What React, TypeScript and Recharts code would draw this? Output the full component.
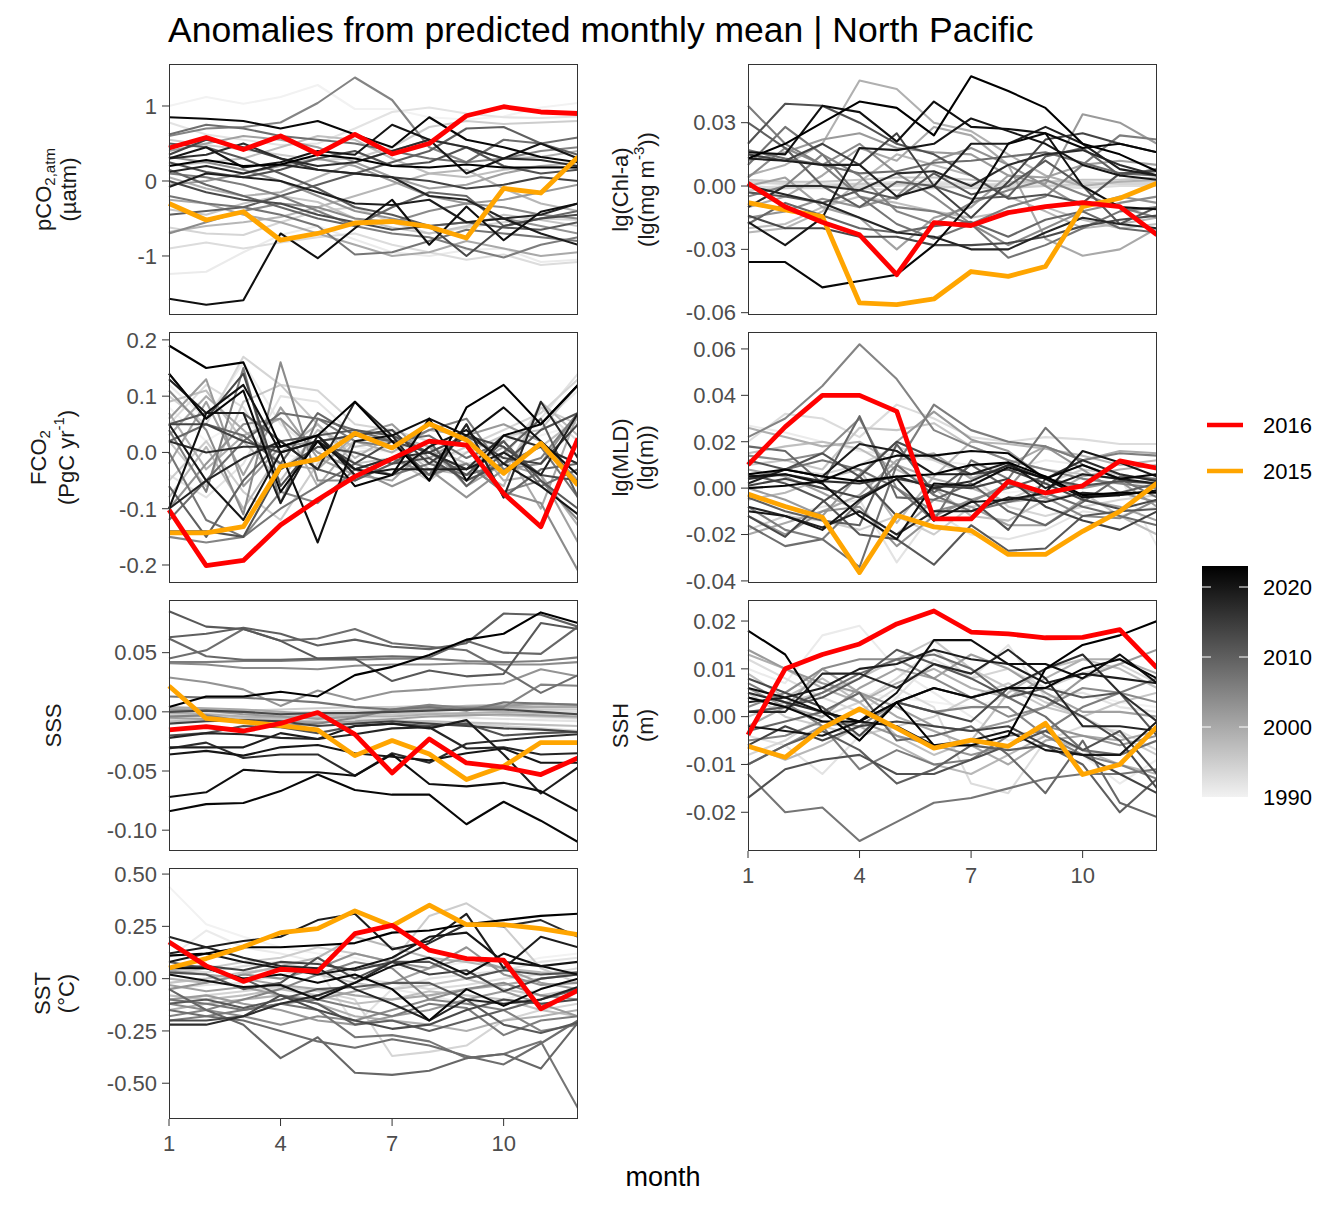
import React from 'react';
import { LineChart, Line, XAxis, YAxis } from 'recharts';

const MONTHS = [1, 2, 3, 4, 5, 6, 7, 8, 9, 10, 11, 12];
const MONTH_TICKS = [1, 4, 7, 10];
const YEARS = [
  1990, 1991, 1992, 1993, 1994, 1995, 1996, 1997, 1998, 1999, 2000, 2001, 2002,
  2003, 2004, 2005, 2006, 2007, 2008, 2009, 2010, 2011, 2012, 2013, 2014,
  2017, 2018, 2019, 2020, 2021, 2022, 2023,
];
const COLORBAR_TICKS = [1990, 2000, 2010, 2020];

// pCO2,atm (µatm)
const pco2Grey = [
  [1.00, 1.12, 1.03, 1.12, 1.28, 0.96, 0.96, 0.85, 0.82, 0.86, 0.98, 1.04],
  [-1.24, -1.21, -0.95, -0.72, -0.60, -0.78, -0.95, -1.00, -0.92, -0.90, -1.08, -1.05],
  [0.78, 0.62, 0.55, 0.48, 0.50, 0.70, 0.92, 0.98, 0.90, 0.85, 0.84, 0.86],
  [-0.90, -0.82, -0.90, -0.82, -0.75, -0.70, -0.85, -0.95, -1.05, -0.98, -1.12, -1.08],
  [-0.62, -0.70, -0.72, -0.55, -0.40, -0.35, -0.55, -0.70, -0.62, -0.55, -0.50, -0.52],
  [0.55, 0.48, 0.42, 0.35, 0.28, 0.30, 0.45, 0.72, 0.80, 0.76, 0.78, 0.80],
  [-0.38, -0.45, -0.30, -0.20, -0.28, -0.50, -0.62, -0.70, -0.60, -0.45, -0.52, -0.60],
  [0.20, 0.25, 0.30, 0.45, 0.60, 0.55, 0.30, 0.10, 0.05, 0.15, 0.20, 0.25],
  [-0.68, -0.60, -0.55, -0.48, -0.35, -0.20, -0.05, 0.10, 0.15, -0.10, -0.30, -0.40],
  [0.05, -0.10, -0.20, -0.15, 0.05, 0.25, 0.40, 0.55, 0.45, 0.30, 0.32, 0.40],
  [-0.25, -0.30, -0.45, -0.55, -0.70, -0.85, -1.00, -0.95, -0.80, -0.90, -1.00, -0.95],
  [0.40, 0.50, 0.60, 0.55, 0.45, 0.25, 0.05, -0.10, -0.05, 0.10, 0.20, 0.18],
  [-0.05, 0.00, 0.10, 0.20, 0.30, 0.20, 0.00, -0.20, -0.30, -0.25, -0.15, -0.05],
  [0.32, 0.25, 0.15, 0.00, -0.20, -0.40, -0.50, -0.60, -0.55, -0.50, -0.60, -0.70],
  [-0.70, -0.55, -0.40, -0.30, -0.35, -0.50, -0.55, -0.40, -0.30, -0.35, -0.45, -0.50],
  [0.60, 0.70, 0.72, 0.78, 1.04, 1.38, 1.08, 0.45, 0.25, 0.30, 0.40, 0.45],
  [0.10, 0.05, -0.05, -0.20, -0.40, -0.60, -0.70, -0.75, -0.90, -1.02, -0.85, -0.75],
  [-0.20, -0.30, -0.35, -0.45, -0.60, -0.98, -0.95, -0.80, -0.65, -0.70, -0.75, -0.80],
  [0.62, 0.75, 0.70, 0.60, 0.55, 0.50, 0.40, 0.30, 0.25, 0.55, 0.50, 0.58],
  [0.15, -0.05, -0.20, -0.35, -0.50, -0.60, -0.35, -0.15, -0.20, -0.60, -0.50, -0.40],
  [-0.45, -0.40, -0.35, -0.20, -0.05, 0.10, 0.25, 0.40, 0.70, 0.72, 0.50, 0.35],
  [0.50, 0.45, 0.30, 0.10, -0.10, -0.35, -0.45, -0.60, -0.55, -0.62, -0.65, -0.55],
  [0.25, 0.12, 0.05, 0.15, 0.30, 0.40, 0.20, 0.25, 0.45, 0.20, 0.10, 0.15],
  [0.00, -0.15, -0.25, -0.30, -0.45, -0.55, -0.65, -0.60, -1.00, -0.60, -0.50, -0.45],
  [0.35, 0.55, 0.45, 0.30, 0.15, 0.10, 0.05, 0.00, -0.10, -0.05, 0.05, 0.00],
  [0.30, 0.35, 0.50, 0.30, 0.20, 0.25, 0.40, 0.55, 0.45, 0.30, 0.28, 0.20],
  [0.12, 0.20, 0.10, 0.22, 0.15, 0.10, 0.05, -0.20, -0.25, -0.50, -0.45, -0.30],
  [-0.08, 0.10, 0.05, 0.00, -0.15, -0.30, -0.32, -0.25, -0.55, -0.50, -0.70, -0.85],
  [0.30, 0.45, 0.18, 0.25, 0.40, 0.35, 0.75, 0.55, 0.10, 0.30, 0.50, 0.30],
  [-1.57, -1.65, -1.59, -0.70, -1.03, -0.63, -0.25, -0.85, -0.34, -0.79, -0.41, -0.30],
  [0.85, 0.83, 0.80, 0.70, 0.80, 0.62, 0.45, 0.85, 0.55, 0.45, 0.32, 0.25],
  [0.20, 0.28, 0.20, 0.22, 0.35, 0.30, 0.20, 0.18, 0.22, 0.18, 0.18, 0.18],
];
const pco2Y2016 = [0.44, 0.58, 0.42, 0.60, 0.36, 0.62, 0.36, 0.50, 0.87, 0.99, 0.92, 0.90];
const pco2Y2015 = [-0.30, -0.52, -0.41, -0.79, -0.70, -0.56, -0.54, -0.61, -0.76, -0.10, -0.16, 0.32];
const pco2Ticks = [-1, 0, 1];

// lg(Chl-a)
const chlGrey = [
  [0.001, 0.001, 0.000, 0.000, 0.001, 0.001, 0.000, 0.000, 0.001, 0.001, 0.000, 0.000],
  [0.002, 0.002, 0.001, 0.001, 0.001, 0.000, 0.000, 0.001, 0.001, 0.001, 0.001, 0.001],
  [-0.001, 0.000, 0.001, 0.001, 0.002, 0.002, 0.001, 0.001, 0.000, 0.000, 0.001, 0.001],
  [0.000, -0.001, -0.001, 0.000, 0.000, 0.001, 0.001, 0.000, 0.000, -0.001, 0.000, 0.000],
  [0.002, 0.001, 0.000, -0.001, -0.002, -0.001, 0.000, 0.001, 0.002, 0.002, 0.001, 0.001],
  [-0.002, -0.001, 0.000, 0.001, 0.001, 0.000, -0.001, -0.001, 0.000, 0.001, 0.002, 0.002],
  [0.003, 0.002, 0.002, 0.003, 0.004, 0.004, 0.003, 0.002, 0.002, 0.003, 0.003, 0.004],
  [-0.020, -0.018, -0.010, -0.005, -0.008, -0.012, -0.015, -0.012, -0.010, -0.016, -0.020, -0.018],
  [-0.022, -0.020, -0.012, 0.002, 0.015, 0.010, 0.005, -0.005, -0.012, -0.020, -0.018, -0.015],
  [0.005, 0.010, 0.020, 0.050, 0.046, 0.030, 0.026, 0.015, 0.005, 0.000, 0.002, 0.003],
  [-0.010, -0.005, 0.005, 0.018, 0.012, 0.028, 0.024, 0.010, -0.025, -0.033, -0.030, -0.020],
  [0.000, 0.004, -0.010, -0.015, -0.030, -0.015, -0.010, 0.005, 0.004, 0.010, 0.012, 0.010],
  [0.012, 0.016, 0.022, 0.025, 0.018, 0.016, 0.015, 0.005, 0.001, 0.034, 0.030, 0.020],
  [-0.015, -0.012, -0.006, -0.010, -0.005, 0.012, 0.018, 0.010, 0.000, -0.010, -0.005, -0.008],
  [0.004, 0.018, 0.010, 0.020, 0.006, -0.005, -0.018, -0.028, -0.020, -0.012, -0.008, -0.005],
  [-0.005, 0.000, 0.015, 0.005, -0.012, -0.018, -0.008, -0.002, 0.003, -0.004, -0.010, -0.015],
  [0.038, 0.020, 0.010, -0.005, -0.010, -0.012, -0.018, -0.010, -0.005, 0.010, 0.024, 0.022],
  [0.010, 0.028, 0.015, -0.005, -0.018, -0.025, -0.018, -0.034, -0.028, -0.020, -0.012, -0.010],
  [0.017, 0.013, 0.010, 0.006, 0.007, 0.011, 0.012, 0.014, 0.016, 0.011, 0.006, 0.005],
  [-0.018, -0.008, -0.014, -0.020, -0.022, -0.019, -0.017, -0.024, -0.016, -0.012, -0.020, -0.022],
  [0.030, 0.018, 0.000, -0.010, 0.002, 0.000, -0.006, -0.005, 0.014, 0.018, 0.005, 0.008],
  [-0.003, -0.005, -0.008, -0.002, -0.006, 0.006, -0.004, 0.000, 0.012, 0.000, -0.018, -0.010],
  [0.020, 0.039, 0.038, 0.030, 0.020, 0.015, 0.005, -0.006, -0.004, -0.008, 0.006, 0.007],
  [-0.014, -0.020, -0.020, -0.024, -0.024, -0.028, -0.028, -0.027, -0.024, -0.019, -0.016, -0.014],
  [0.015, 0.012, 0.020, 0.010, 0.025, 0.000, -0.015, 0.002, 0.022, 0.025, 0.020, 0.016],
  [-0.010, 0.000, 0.000, -0.002, 0.006, 0.007, 0.000, 0.010, 0.015, 0.017, 0.010, 0.005],
  [0.000, -0.004, -0.008, -0.015, -0.022, -0.024, -0.030, -0.030, -0.022, -0.015, -0.018, -0.020],
  [0.013, 0.012, 0.010, 0.010, -0.005, 0.000, 0.020, 0.020, 0.028, 0.020, 0.008, 0.005],
  [-0.017, -0.028, -0.015, 0.018, 0.017, 0.020, 0.032, 0.026, 0.020, 0.010, 0.005, 0.003],
  [0.016, 0.015, 0.038, 0.035, 0.021, 0.040, 0.028, 0.027, 0.025, 0.000, -0.010, -0.011],
  [-0.036, -0.036, -0.048, -0.045, -0.042, -0.028, -0.008, 0.020, 0.025, 0.018, 0.020, 0.016],
  [0.013, 0.020, 0.030, 0.040, 0.037, 0.024, 0.052, 0.045, 0.037, 0.020, 0.015, 0.007],
];
const chlY2016 = [0.0013, -0.0098, -0.0172, -0.0231, -0.042, -0.0173, -0.0187, -0.0126, -0.0098, -0.0079, -0.0098, -0.0231];
const chlY2015 = [-0.0079, -0.0113, -0.0145, -0.0554, -0.0562, -0.0535, -0.0405, -0.0428, -0.0381, -0.0098, -0.0058, 0.0013];
const chlTicks = [-0.06, -0.03, 0, 0.03];

// FCO2 (PgC yr-1)
const fco2Grey = [
  [0.08, 0.02, 0.06, 0.00, -0.02, 0.01, 0.00, 0.01, 0.00, 0.02, 0.03, 0.05],
  [0.12, 0.06, 0.16, 0.05, 0.00, 0.03, 0.02, -0.01, 0.00, 0.02, 0.05, 0.11],
  [-0.04, -0.08, -0.02, 0.10, 0.09, 0.03, 0.03, 0.00, -0.03, 0.02, 0.06, 0.14],
  [0.05, 0.12, 0.08, -0.03, 0.02, 0.00, 0.01, -0.02, -0.02, -0.01, 0.08, 0.02],
  [0.10, 0.05, 0.17, 0.12, 0.11, 0.05, 0.04, 0.02, 0.01, 0.04, 0.07, 0.13],
  [-0.05, 0.02, -0.07, -0.12, -0.02, 0.02, 0.04, -0.02, 0.01, -0.04, 0.08, 0.05],
  [0.02, -0.06, 0.09, 0.12, 0.05, -0.02, -0.01, -0.05, 0.00, 0.03, 0.04, 0.12],
  [0.09, 0.11, 0.02, -0.05, 0.04, 0.01, 0.02, -0.03, -0.04, -0.02, 0.01, 0.06],
  [-0.08, 0.01, -0.10, 0.00, 0.05, -0.01, 0.03, 0.01, -0.02, -0.06, 0.09, 0.03],
  [0.07, -0.03, 0.03, 0.06, -0.06, 0.02, 0.00, 0.04, 0.03, -0.05, -0.04, -0.13],
  [0.03, 0.10, 0.04, -0.02, -0.03, 0.03, 0.02, 0.00, -0.03, 0.01, -0.10, 0.07],
  [-0.02, 0.09, -0.04, 0.08, -0.01, -0.04, -0.05, 0.01, -0.06, -0.02, -0.04, -0.16],
  [0.06, 0.13, -0.06, 0.01, 0.02, 0.03, 0.05, -0.01, 0.03, 0.05, 0.02, -0.05],
  [-0.10, -0.02, 0.05, 0.06, 0.00, -0.03, -0.06, -0.03, -0.08, -0.03, -0.02, 0.07],
  [0.11, 0.04, -0.11, 0.16, -0.05, -0.05, -0.01, -0.04, -0.02, -0.07, -0.09, -0.21],
  [-0.15, -0.16, -0.15, -0.07, -0.09, -0.03, -0.01, -0.04, -0.02, -0.07, -0.05, -0.12],
  [0.04, -0.07, 0.15, -0.09, 0.06, 0.02, 0.01, 0.04, 0.06, -0.03, -0.01, 0.07],
  [0.00, -0.12, -0.15, -0.10, -0.06, -0.02, -0.04, -0.02, -0.04, -0.02, 0.01, -0.08],
  [-0.12, -0.05, 0.02, 0.07, 0.06, 0.04, 0.02, 0.03, -0.01, 0.02, -0.06, -0.03],
  [0.02, 0.05, 0.03, -0.02, 0.07, 0.03, 0.02, -0.04, 0.05, -0.08, -0.03, -0.02],
  [-0.06, -0.15, -0.05, 0.02, -0.03, -0.05, -0.02, 0.02, -0.06, 0.00, 0.06, -0.08],
  [0.05, 0.07, 0.07, 0.02, 0.03, 0.04, 0.03, 0.00, -0.04, 0.02, -0.05, -0.10],
  [-0.14, -0.14, -0.15, -0.03, 0.01, 0.00, -0.02, -0.01, -0.05, -0.02, 0.04, 0.07],
  [0.14, 0.06, 0.14, -0.06, 0.02, -0.02, 0.02, 0.00, 0.03, 0.01, -0.04, -0.05],
  [0.05, 0.05, 0.02, 0.00, 0.02, 0.03, 0.04, -0.02, 0.03, -0.01, -0.02, 0.05],
  [0.02, 0.00, 0.01, 0.01, 0.03, -0.03, -0.01, 0.00, -0.03, 0.03, 0.01, -0.02],
  [-0.10, -0.05, -0.01, 0.02, -0.03, 0.09, 0.03, -0.05, 0.05, -0.08, 0.09, -0.01],
  [0.13, 0.07, 0.07, -0.09, 0.03, -0.04, -0.03, -0.03, -0.03, 0.00, -0.04, 0.07],
  [0.05, -0.05, -0.12, 0.00, 0.02, -0.03, -0.04, 0.01, 0.04, -0.02, -0.06, -0.11],
  [-0.10, 0.07, 0.12, 0.00, -0.16, 0.02, 0.03, 0.06, 0.03, 0.08, 0.02, -0.04],
  [0.14, 0.06, 0.11, -0.07, 0.02, -0.06, -0.04, 0.06, -0.05, 0.03, 0.05, 0.12],
  [0.19, 0.15, 0.16, 0.01, 0.03, 0.09, 0.02, -0.05, 0.08, 0.12, 0.05, 0.12],
];
const fco2Y2016 = [-0.102, -0.201, -0.192, -0.129, -0.084, -0.043, -0.011, 0.020, 0.013, -0.073, -0.132, 0.025];
const fco2Y2015 = [-0.143, -0.143, -0.132, -0.025, -0.012, 0.034, 0.008, 0.051, 0.022, -0.037, 0.016, -0.058];
const fco2Ticks = [-0.2, -0.1, 0, 0.1, 0.2];

// lg(MLD)
const mldGrey = [
  [0.002, 0.003, 0.002, 0.004, 0.003, 0.001, 0.000, -0.002, 0.000, 0.001, 0.002, 0.001],
  [0.027, 0.024, 0.020, 0.016, 0.014, 0.012, 0.010, 0.008, 0.012, 0.010, 0.005, -0.025],
  [-0.010, -0.012, -0.008, -0.005, -0.032, -0.010, -0.020, -0.022, -0.018, -0.010, -0.012, -0.008],
  [0.020, 0.032, 0.030, 0.022, 0.036, 0.030, 0.022, 0.020, 0.022, 0.021, 0.019, 0.019],
  [0.005, 0.008, 0.006, 0.010, 0.018, 0.012, 0.005, -0.008, -0.012, -0.008, -0.005, -0.003],
  [-0.018, -0.012, -0.014, -0.018, -0.012, -0.020, -0.008, -0.005, 0.002, 0.008, 0.006, 0.003],
  [0.010, 0.012, 0.008, 0.026, 0.025, 0.028, 0.018, 0.012, 0.008, 0.006, 0.004, 0.006],
  [0.015, 0.018, 0.020, 0.017, 0.008, 0.000, -0.012, -0.014, -0.005, -0.002, -0.012, -0.020],
  [-0.005, -0.002, 0.004, 0.008, -0.015, 0.005, 0.020, 0.019, 0.017, 0.014, 0.010, 0.012],
  [0.026, 0.022, 0.018, 0.020, 0.010, 0.004, 0.000, -0.006, -0.004, 0.005, 0.008, 0.010],
  [-0.020, -0.015, -0.010, -0.003, 0.012, 0.015, 0.004, 0.010, 0.018, 0.012, 0.016, 0.015],
  [0.008, 0.005, -0.002, -0.010, -0.020, -0.005, -0.008, -0.016, -0.016, -0.005, -0.008, -0.014],
  [0.000, -0.005, -0.012, 0.006, 0.020, 0.033, 0.021, 0.016, 0.004, 0.000, 0.003, -0.008],
  [-0.012, -0.020, -0.010, -0.008, -0.025, -0.012, -0.005, 0.000, 0.018, 0.008, -0.002, -0.006],
  [0.014, 0.012, 0.015, 0.030, 0.000, -0.010, -0.006, 0.002, -0.004, -0.012, -0.013, -0.005],
  [0.022, 0.030, 0.044, 0.062, 0.047, 0.025, 0.018, 0.012, 0.008, 0.004, 0.002, 0.000],
  [-0.008, -0.018, -0.022, -0.006, 0.010, 0.036, 0.025, 0.020, 0.018, 0.012, 0.015, 0.014],
  [0.004, 0.008, 0.012, 0.008, 0.000, -0.014, 0.012, 0.004, 0.026, 0.010, 0.004, -0.004],
  [-0.016, -0.025, -0.022, -0.034, 0.010, -0.003, -0.010, -0.006, -0.002, -0.008, -0.012, -0.016],
  [0.018, 0.016, 0.002, 0.031, -0.004, -0.005, 0.002, -0.010, -0.016, -0.006, 0.005, 0.004],
  [-0.004, -0.010, -0.014, -0.016, 0.019, -0.002, 0.010, 0.000, 0.005, -0.004, -0.002, 0.002],
  [0.006, 0.002, -0.005, -0.020, -0.022, -0.033, -0.016, -0.027, -0.026, -0.012, -0.010, -0.009],
  [0.012, 0.008, 0.015, 0.005, -0.012, 0.000, -0.005, -0.018, 0.004, 0.001, 0.003, 0.002],
  [-0.012, -0.021, -0.006, 0.005, 0.020, 0.013, 0.006, 0.008, 0.002, -0.005, -0.009, -0.005],
  [0.001, 0.004, 0.000, -0.004, 0.004, 0.001, 0.000, 0.004, -0.008, -0.014, -0.018, -0.010],
  [0.004, 0.006, 0.003, 0.002, 0.005, 0.000, 0.003, 0.010, 0.004, 0.012, 0.006, 0.003],
  [-0.008, -0.012, -0.017, -0.010, -0.020, -0.010, -0.010, -0.004, -0.006, -0.002, -0.003, -0.001],
  [0.002, 0.008, 0.005, 0.019, 0.016, 0.006, 0.006, 0.011, 0.000, 0.006, 0.004, 0.002],
  [-0.010, -0.012, -0.018, -0.005, 0.004, -0.014, -0.006, -0.005, -0.002, 0.016, 0.011, 0.005],
  [0.005, 0.006, 0.002, -0.012, -0.022, 0.002, 0.001, 0.009, 0.004, -0.004, -0.003, -0.001],
  [0.000, 0.001, 0.003, 0.010, 0.014, 0.014, 0.016, 0.015, 0.004, 0.010, 0.004, 0.006],
  [0.006, 0.008, 0.005, 0.003, 0.005, 0.006, 0.010, 0.011, 0.005, -0.003, -0.002, -0.002],
];
const mldY2016 = [0.010, 0.0264, 0.040, 0.040, 0.0331, -0.0133, -0.0133, 0.0029, -0.0021, 0.001, 0.0117, 0.0086];
const mldY2015 = [-0.0026, -0.0079, -0.0126, -0.0364, -0.0117, -0.0167, -0.0183, -0.0286, -0.0286, -0.0186, -0.010, 0.0021];
const mldTicks = [-0.04, -0.02, 0, 0.02, 0.04, 0.06];

// SSS
const sssGrey = [
  [0.000, 0.000, 0.001, 0.000, 0.000, 0.001, 0.001, 0.000, -0.001, -0.002, -0.003, -0.004],
  [-0.002, -0.002, -0.001, -0.001, 0.000, 0.000, 0.000, -0.001, -0.002, -0.003, -0.005, -0.006],
  [-0.004, -0.004, -0.003, -0.003, -0.002, -0.002, -0.003, -0.004, -0.005, -0.006, -0.007, -0.008],
  [0.001, 0.000, -0.001, -0.001, 0.000, 0.001, 0.002, 0.002, 0.002, 0.001, 0.001, 0.000],
  [-0.006, -0.006, -0.006, -0.005, -0.005, -0.006, -0.007, -0.008, -0.010, -0.012, -0.014, -0.016],
  [0.002, 0.001, 0.001, 0.002, 0.003, 0.004, 0.004, 0.005, 0.004, 0.003, 0.002, 0.002],
  [-0.003, -0.004, -0.005, -0.004, -0.003, -0.003, -0.002, -0.001, -0.002, -0.003, -0.004, -0.005],
  [-0.008, -0.007, -0.006, -0.007, -0.008, -0.009, -0.008, -0.008, -0.009, -0.010, -0.011, -0.012],
  [0.003, 0.002, 0.000, -0.002, -0.003, -0.002, 0.000, 0.003, 0.005, 0.006, 0.006, 0.005],
  [-0.001, -0.002, -0.004, -0.005, -0.005, -0.004, -0.004, -0.002, -0.001, 0.000, -0.001, -0.002],
  [0.004, 0.003, 0.002, 0.000, -0.002, -0.001, 0.001, 0.002, 0.003, 0.004, 0.004, 0.004],
  [-0.005, -0.006, -0.007, -0.008, -0.009, -0.008, -0.006, -0.004, -0.003, -0.002, -0.003, -0.004],
  [0.002, 0.001, -0.002, -0.004, -0.006, -0.004, 0.002, 0.005, 0.004, 0.005, 0.007, 0.006],
  [0.029, 0.025, 0.019, 0.005, 0.018, 0.010, 0.017, 0.019, 0.022, 0.024, 0.036, 0.030],
  [0.041, 0.040, 0.037, 0.037, 0.036, 0.039, 0.040, 0.040, 0.041, 0.040, 0.040, 0.042],
  [-0.004, -0.003, -0.008, -0.012, -0.010, -0.005, 0.002, 0.006, 0.003, 0.004, 0.023, 0.022],
  [0.042, 0.042, 0.043, 0.043, 0.044, 0.044, 0.045, 0.045, 0.043, 0.042, 0.043, 0.046],
  [0.013, 0.012, 0.012, 0.010, 0.008, 0.004, 0.002, 0.004, 0.001, 0.008, 0.007, 0.006],
  [0.045, 0.052, 0.070, 0.060, 0.062, 0.070, 0.058, 0.055, 0.052, 0.035, 0.016, 0.031],
  [0.062, 0.047, 0.044, 0.044, 0.045, 0.046, 0.047, 0.046, 0.060, 0.050, 0.049, 0.072],
  [0.063, 0.066, 0.071, 0.066, 0.056, 0.061, 0.055, 0.053, 0.058, 0.083, 0.082, 0.072],
  [0.085, 0.072, 0.070, 0.060, 0.045, 0.045, 0.026, 0.035, 0.030, 0.032, 0.075, 0.070],
  [-0.020, -0.018, -0.012, -0.013, -0.018, -0.012, -0.010, -0.012, -0.010, -0.020, -0.018, -0.017],
  [0.000, 0.001, 0.000, -0.002, -0.001, -0.001, 0.000, 0.001, 0.002, 0.002, 0.000, -0.002],
  [-0.010, -0.008, -0.007, -0.008, -0.012, -0.010, -0.008, -0.010, -0.012, -0.014, -0.015, -0.017],
  [-0.031, -0.026, -0.039, -0.036, -0.036, -0.054, -0.035, -0.043, -0.027, -0.024, -0.021, -0.019],
  [-0.022, -0.018, -0.019, -0.022, -0.023, -0.019, -0.014, -0.013, -0.031, -0.030, -0.036, -0.035],
  [-0.030, -0.030, -0.030, -0.018, -0.023, -0.012, -0.010, -0.014, -0.007, -0.036, -0.069, -0.047],
  [-0.036, -0.033, -0.037, -0.030, -0.028, -0.035, -0.038, -0.041, -0.035, -0.031, -0.043, -0.043],
  [-0.072, -0.068, -0.049, -0.051, -0.051, -0.054, -0.036, -0.061, -0.063, -0.060, -0.067, -0.084],
  [-0.084, -0.078, -0.077, -0.067, -0.053, -0.066, -0.070, -0.070, -0.095, -0.076, -0.092, -0.110],
  [0.004, 0.013, 0.013, 0.017, 0.013, 0.031, 0.038, 0.048, 0.061, 0.066, 0.084, 0.075],
];
const sssY2016 = [-0.0153, -0.0125, -0.0162, -0.0098, -0.0006, -0.019, -0.0516, -0.0229, -0.0432, -0.0468, -0.053, -0.039];
const sssY2015 = [0.0218, -0.0056, -0.0084, -0.0117, -0.0153, -0.037, -0.0243, -0.0357, -0.0572, -0.046, -0.026, -0.026];
const sssTicks = [-0.1, -0.05, 0, 0.05];

// SSH (m)
const sshGrey = [
  [0.003, 0.004, 0.006, 0.005, 0.004, 0.003, 0.002, 0.004, 0.006, 0.005, 0.003, 0.002],
  [0.010, 0.007, 0.017, 0.019, 0.010, 0.005, 0.000, -0.005, -0.004, -0.008, -0.014, -0.009],
  [-0.004, -0.006, -0.012, -0.004, 0.004, 0.012, 0.008, 0.015, 0.004, 0.005, 0.002, 0.001],
  [0.012, 0.008, 0.004, 0.001, 0.006, 0.002, -0.014, -0.016, -0.005, -0.002, -0.003, -0.007],
  [-0.008, -0.005, 0.000, 0.003, 0.008, 0.014, 0.008, 0.010, 0.006, 0.009, 0.011, 0.007],
  [0.005, 0.000, -0.002, -0.004, -0.002, 0.000, 0.004, 0.007, 0.003, 0.000, -0.004, -0.008],
  [0.000, 0.003, 0.005, 0.008, 0.012, 0.016, 0.010, 0.006, 0.002, 0.000, 0.003, 0.005],
  [0.009, 0.004, 0.008, 0.003, -0.004, -0.008, -0.005, 0.005, 0.010, 0.012, 0.010, 0.006],
  [-0.006, -0.009, -0.006, -0.002, -0.006, -0.010, -0.012, -0.008, -0.004, -0.007, -0.010, -0.012],
  [0.013, 0.010, 0.006, 0.003, 0.007, 0.010, 0.006, 0.004, 0.008, 0.012, 0.012, 0.009],
  [-0.002, 0.002, 0.010, 0.005, 0.000, -0.003, -0.006, -0.010, -0.005, -0.004, -0.005, -0.003],
  [0.006, 0.002, 0.000, 0.006, 0.010, 0.008, 0.013, 0.010, 0.005, 0.001, 0.001, 0.000],
  [0.014, 0.010, 0.007, 0.005, 0.002, -0.002, -0.003, -0.001, 0.002, 0.008, 0.011, 0.014],
  [-0.010, -0.006, -0.002, -0.001, -0.004, -0.006, -0.008, -0.006, -0.002, -0.004, -0.006, -0.004],
  [0.002, 0.005, 0.010, 0.012, 0.012, 0.008, 0.004, 0.000, 0.002, 0.006, 0.005, 0.003],
  [-0.005, -0.004, -0.001, -0.002, 0.003, 0.001, 0.002, 0.002, -0.004, -0.008, -0.010, -0.013],
  [0.007, 0.003, -0.002, -0.011, -0.007, -0.010, -0.009, -0.004, -0.003, 0.002, 0.005, 0.008],
  [-0.012, -0.020, -0.019, -0.026, -0.022, -0.018, -0.017, -0.015, -0.013, -0.012, -0.012, -0.011],
  [0.004, 0.002, 0.005, 0.009, 0.012, 0.013, 0.010, 0.004, 0.000, -0.007, -0.008, -0.005],
  [-0.003, -0.001, 0.001, 0.005, -0.005, -0.004, -0.002, -0.008, -0.016, -0.005, -0.018, -0.021],
  [-0.010, -0.006, -0.003, -0.007, -0.014, -0.011, -0.006, -0.007, -0.006, -0.010, -0.020, -0.013],
  [0.001, 0.002, 0.004, 0.008, 0.014, 0.011, 0.008, 0.004, 0.006, 0.004, 0.005, -0.004],
  [-0.017, -0.011, -0.009, -0.008, -0.012, -0.012, -0.009, -0.006, -0.003, -0.007, -0.003, -0.012],
  [0.008, 0.005, 0.002, -0.004, 0.003, 0.001, -0.001, 0.006, 0.004, 0.000, -0.005, -0.015],
  [-0.006, -0.002, -0.005, -0.002, -0.001, -0.002, -0.003, -0.002, -0.006, -0.008, -0.012, -0.016],
  [0.005, 0.003, 0.001, -0.001, 0.003, 0.006, 0.004, 0.006, 0.010, 0.013, 0.005, -0.001],
  [0.001, 0.001, 0.009, 0.009, 0.006, 0.011, 0.009, 0.014, 0.008, -0.002, -0.002, -0.003],
  [0.003, 0.004, 0.006, 0.010, 0.011, 0.014, 0.012, 0.011, 0.007, 0.009, 0.008, 0.007],
  [-0.002, -0.003, -0.004, -0.001, -0.002, -0.006, -0.005, -0.003, -0.007, -0.008, -0.008, -0.001],
  [0.006, 0.004, 0.001, -0.001, 0.005, 0.016, 0.016, 0.011, 0.011, 0.008, 0.013, 0.007],
  [0.004, 0.002, -0.001, -0.001, 0.003, 0.006, 0.004, 0.006, 0.006, 0.010, 0.012, 0.008],
  [0.018, 0.013, 0.001, -0.005, 0.003, -0.006, -0.006, -0.004, 0.010, 0.015, 0.017, 0.020],
];
const sshY2016 = [-0.0038, 0.010, 0.013, 0.0152, 0.0194, 0.0221, 0.0177, 0.0173, 0.0165, 0.0166, 0.0182, 0.0102];
const sshY2015 = [-0.0062, -0.0085, -0.0024, 0.0016, -0.0024, -0.0066, -0.0049, -0.0062, -0.0014, -0.0121, -0.010, -0.0021];
const sshTicks = [-0.02, -0.01, 0, 0.01, 0.02];

// SST (°C)
const sstGrey = [
  [0.44, 0.26, 0.20, 0.15, 0.12, 0.10, 0.05, 0.05, 0.08, 0.06, 0.10, 0.12],
  [0.10, 0.23, 0.15, 0.12, 0.08, 0.02, -0.05, -0.08, -0.12, -0.10, -0.05, 0.00],
  [-0.05, -0.03, -0.02, 0.02, 0.05, -0.22, -0.05, 0.00, 0.02, 0.04, 0.08, 0.10],
  [0.05, 0.03, 0.06, 0.08, 0.04, 0.00, -0.02, -0.05, -0.03, 0.00, 0.02, 0.05],
  [-0.12, -0.08, -0.06, -0.04, -0.06, -0.10, -0.37, -0.35, -0.32, -0.20, -0.15, -0.12],
  [0.02, 0.05, 0.08, 0.10, 0.15, 0.12, 0.08, 0.30, 0.36, 0.25, 0.05, -0.02],
  [-0.02, 0.00, 0.03, 0.05, 0.02, -0.02, -0.05, -0.03, 0.00, -0.05, -0.08, -0.05],
  [-0.08, -0.10, -0.08, -0.05, -0.08, -0.12, -0.10, -0.06, -0.08, -0.10, -0.15, -0.18],
  [0.00, -0.02, 0.02, 0.06, 0.10, 0.20, 0.15, 0.10, 0.08, 0.05, 0.03, 0.02],
  [-0.15, -0.12, -0.10, -0.08, -0.12, -0.18, -0.20, -0.22, -0.25, -0.20, -0.18, -0.15],
  [0.04, 0.02, 0.00, -0.03, -0.05, -0.08, -0.10, -0.08, -0.05, -0.03, 0.00, 0.02],
  [-0.03, -0.06, -0.04, -0.08, -0.10, -0.06, -0.02, 0.05, 0.10, 0.05, -0.02, -0.05],
  [-0.10, -0.08, -0.12, -0.15, -0.20, -0.22, -0.18, -0.15, -0.10, -0.06, -0.12, -0.18],
  [-0.05, -0.02, 0.02, 0.00, 0.05, 0.12, 0.08, 0.05, 0.15, 0.02, -0.03, -0.02],
  [-0.12, -0.15, -0.18, -0.22, -0.18, -0.20, -0.15, -0.10, -0.05, -0.02, -0.08, -0.10],
  [-0.18, -0.15, -0.10, -0.05, 0.02, 0.08, 0.05, -0.10, -0.12, -0.15, -0.25, -0.22],
  [-0.20, -0.18, -0.15, -0.12, -0.10, -0.14, -0.18, -0.12, -0.14, -0.27, -0.20, -0.18],
  [-0.10, -0.12, -0.15, -0.12, -0.15, -0.28, -0.27, -0.30, -0.38, -0.36, -0.30, -0.62],
  [-0.15, -0.18, -0.20, -0.25, -0.30, -0.33, -0.29, -0.32, -0.37, -0.41, -0.31, -0.20],
  [-0.05, -0.15, -0.22, -0.38, -0.28, -0.45, -0.46, -0.44, -0.38, -0.36, -0.43, -0.21],
  [0.08, 0.05, 0.00, -0.08, -0.12, -0.22, -0.20, -0.25, -0.20, -0.15, -0.10, -0.05],
  [-0.12, -0.10, -0.14, -0.10, -0.05, -0.04, -0.02, -0.02, -0.10, -0.22, -0.26, -0.21],
  [0.03, 0.02, -0.05, -0.02, 0.10, 0.00, 0.08, 0.08, 0.00, 0.04, 0.02, 0.03],
  [-0.20, -0.20, -0.18, -0.08, -0.15, -0.20, -0.24, -0.22, -0.15, -0.10, -0.12, -0.10],
  [0.05, 0.06, 0.04, 0.08, 0.07, 0.04, 0.08, 0.02, 0.04, -0.06, 0.00, 0.02],
  [-0.22, -0.22, -0.18, -0.12, -0.08, -0.02, 0.08, 0.17, 0.26, 0.25, 0.28, 0.20],
  [0.20, 0.15, 0.10, 0.06, 0.05, -0.05, -0.12, -0.20, -0.10, -0.12, -0.10, -0.04],
  [0.12, 0.15, 0.18, 0.20, 0.28, 0.31, 0.14, 0.18, 0.31, 0.05, 0.20, 0.15],
  [0.08, 0.12, 0.08, 0.05, 0.02, 0.05, 0.10, 0.20, 0.22, 0.08, 0.06, 0.08],
  [0.02, -0.01, -0.04, -0.03, -0.10, -0.02, 0.06, 0.10, 0.02, 0.12, 0.06, 0.02],
  [0.05, 0.05, 0.00, 0.02, -0.02, 0.02, -0.05, -0.20, -0.05, -0.13, -0.05, 0.00],
  [0.11, 0.12, 0.15, 0.15, 0.16, 0.17, 0.22, 0.23, 0.26, 0.28, 0.30, 0.31],
];
const sstY2016 = [0.175, 0.061, -0.013, 0.045, 0.035, 0.215, 0.255, 0.136, 0.096, 0.088, -0.144, -0.056];
const sstY2015 = [0.051, 0.096, 0.152, 0.22, 0.239, 0.324, 0.252, 0.351, 0.258, 0.258, 0.239, 0.21];
const sstTicks = [-0.5, -0.25, 0, 0.25, 0.5];

const FONT = '"Liberation Sans", Arial, Helvetica, sans-serif';
const PLOT_W = 409;
const PLOT_H = 251;
const AXIS_W = 90;
const X_AXIS_H = 44;
const PAD = 16; // room so edge tick labels are not clipped

const yearColour = (yr: number) => {
  const t = (yr - 1990) / (2023 - 1990);
  const g = Math.round(242 * (1 - t));
  return `rgb(${g},${g},${g})`;
};

const buildRows = (grey: number[][], y2016: number[], y2015: number[]) =>
  MONTHS.map((m, i) => {
    const row: Record<string, number> = { month: m };
    YEARS.forEach((yr, j) => {
      row['y' + yr] = grey[j][i];
    });
    row.y2016 = y2016[i];
    row.y2015 = y2015[i];
    return row;
  });

interface PanelProps {
  left: number;
  top: number;
  rows: Record<string, number>[];
  domain: [number, number];
  ticks: number[];
  digits: number;
  showX?: boolean;
}

const Panel: React.FC<PanelProps> = ({ left, top, rows, domain, ticks, digits, showX }) => {
  const h = PLOT_H + PAD * 2 + (showX ? X_AXIS_H : 0);
  return (
    <div style={{ position: 'absolute', left: left - AXIS_W, top: top - PAD, width: PLOT_W + AXIS_W, height: h }}>
      <LineChart
        width={PLOT_W + AXIS_W}
        height={h}
        data={rows}
        margin={{ top: PAD, right: 0, bottom: PAD, left: 0 }}
      >
        <XAxis
          dataKey="month"
          type="number"
          domain={[1, 12]}
          ticks={MONTH_TICKS}
          hide={!showX}
          height={X_AXIS_H}
          axisLine={false}
          tickSize={7}
          tickMargin={9}
          tickLine={{ stroke: '#333333' }}
          tick={{ fill: '#4d4d4d', fontSize: 22 }}
          interval={0}
        />
        <YAxis
          type="number"
          domain={domain}
          ticks={ticks}
          allowDataOverflow
          width={AXIS_W}
          axisLine={false}
          tickSize={7}
          tickMargin={5}
          tickLine={{ stroke: '#333333' }}
          tick={{ fill: '#4d4d4d', fontSize: 22 }}
          tickFormatter={(v: number) => v.toFixed(digits)}
          interval={0}
        />
        {YEARS.map((yr) => (
          <Line
            key={yr}
            dataKey={'y' + yr}
            stroke={yearColour(yr)}
            strokeWidth={2.1}
            strokeLinejoin="round"
            dot={false}
            activeDot={false}
            isAnimationActive={false}
          />
        ))}
        <Line dataKey="y2015" stroke="#FFA500" strokeWidth={4.8} strokeLinejoin="round" dot={false} activeDot={false} isAnimationActive={false} />
        <Line dataKey="y2016" stroke="#FF0000" strokeWidth={4.8} strokeLinejoin="round" dot={false} activeDot={false} isAnimationActive={false} />
      </LineChart>
      <div
        style={{
          position: 'absolute',
          left: AXIS_W,
          top: PAD,
          width: PLOT_W,
          height: PLOT_H,
          border: '1px solid #333333',
          boxSizing: 'border-box',
          pointerEvents: 'none',
        }}
      />
    </div>
  );
};

const VText: React.FC<{ x: number; y: number; children: React.ReactNode }> = ({ x, y, children }) => (
  <text
    transform={`translate(${x},${y}) rotate(-90)`}
    textAnchor="middle"
    dominantBaseline="central"
    fontSize={22}
    fill="#1a1a1a"
  >
    {children}
  </text>
);

const App: React.FC = () => {
  const L = 169;
  const R = 748;
  const rowsTop = [64, 332, 600, 868];
  const mid = (i: number) => rowsTop[i] + PLOT_H / 2;
  const barTop = 566;
  const barBottom = 797;
  const yearToBar = (yr: number) => barBottom - ((yr - 1990) / (2023 - 1990)) * (barBottom - barTop);

  return (
    <div style={{ position: 'absolute', left: 0, top: 0, width: 1344, height: 1209, background: '#fff', fontFamily: FONT }}>
      <Panel left={L} top={rowsTop[0]} rows={buildRows(pco2Grey, pco2Y2016, pco2Y2015)} domain={[-1.787, 1.56]} ticks={pco2Ticks} digits={0} />
      <Panel left={R} top={rowsTop[0]} rows={buildRows(chlGrey, chlY2016, chlY2015)} domain={[-0.0611, 0.0578]} ticks={chlTicks} digits={2} />
      <Panel left={L} top={rowsTop[1]} rows={buildRows(fco2Grey, fco2Y2016, fco2Y2015)} domain={[-0.232, 0.214]} ticks={fco2Ticks} digits={1} />
      <Panel left={R} top={rowsTop[1]} rows={buildRows(mldGrey, mldY2016, mldY2015)} domain={[-0.0409, 0.0673]} ticks={mldTicks} digits={2} />
      <Panel left={L} top={rowsTop[2]} rows={buildRows(sssGrey, sssY2016, sssY2015)} domain={[-0.1176, 0.0945]} ticks={sssTicks} digits={2} />
      <Panel left={R} top={rowsTop[2]} rows={buildRows(sshGrey, sshY2016, sshY2015)} domain={[-0.0281, 0.0244]} ticks={sshTicks} digits={2} showX />
      <Panel left={L} top={rowsTop[3]} rows={buildRows(sstGrey, sstY2016, sstY2015)} domain={[-0.671, 0.529]} ticks={sstTicks} digits={2} showX />

      <svg width={1344} height={1209} style={{ position: 'absolute', left: 0, top: 0, pointerEvents: 'none' }} fontFamily={FONT}>
        <defs>
          <linearGradient id="yearbar" x1="0" y1="1" x2="0" y2="0">
            {[1990, 1995, 2000, 2005, 2010, 2015, 2020, 2023].map((yr) => (
              <stop key={yr} offset={(yr - 1990) / (2023 - 1990)} stopColor={yearColour(yr)} />
            ))}
          </linearGradient>
        </defs>

        <text x={168} y={42} fontSize={35.5} fill="#000">Anomalies from predicted monthly mean | North Pacific</text>

        {/* strip labels */}
        <VText x={43} y={mid(0)}>
          <tspan>pCO</tspan>
          <tspan dy={6} fontSize={15}>2,atm</tspan>
        </VText>
        <VText x={68} y={mid(0)}>(µatm)</VText>
        <VText x={38} y={mid(1)}>
          <tspan>FCO</tspan>
          <tspan dy={6} fontSize={15}>2</tspan>
        </VText>
        <VText x={66} y={mid(1)}>
          <tspan>(PgC yr</tspan>
          <tspan dy={-8} fontSize={15}>-1</tspan>
          <tspan dy={8}>)</tspan>
        </VText>
        <VText x={53} y={mid(2)}>SSS</VText>
        <VText x={42} y={mid(3)}>SST</VText>
        <VText x={66} y={mid(3)}>(°C)</VText>

        <VText x={620} y={mid(0)}>lg(Chl-a)</VText>
        <VText x={646} y={mid(0)}>
          <tspan>(lg(mg m</tspan>
          <tspan dy={-8} fontSize={15}>-3</tspan>
          <tspan dy={8}>))</tspan>
        </VText>
        <VText x={620} y={mid(1)}>lg(MLD)</VText>
        <VText x={645} y={mid(1)}>(lg(m))</VText>
        <VText x={620} y={mid(2)}>SSH</VText>
        <VText x={645} y={mid(2)}>(m)</VText>

        <text x={663} y={1186} fontSize={27} textAnchor="middle" fill="#000">month</text>

        {/* highlight legend */}
        <line x1={1207} x2={1243} y1={425} y2={425} stroke="#FF0000" strokeWidth={4.6} />
        <text x={1263} y={425} fontSize={22} dominantBaseline="central" fill="#000">2016</text>
        <line x1={1207} x2={1243} y1={471} y2={471} stroke="#FFA500" strokeWidth={4.6} />
        <text x={1263} y={471} fontSize={22} dominantBaseline="central" fill="#000">2015</text>

        {/* year colour bar */}
        <rect x={1202} y={barTop} width={46} height={barBottom - barTop} fill="url(#yearbar)" />
        {COLORBAR_TICKS.map((yr) => (
          <g key={yr}>
            {yr > 1990 && (
              <>
                <line x1={1202} x2={1211} y1={yearToBar(yr)} y2={yearToBar(yr)} stroke="#fff" strokeWidth={1} />
                <line x1={1239} x2={1248} y1={yearToBar(yr)} y2={yearToBar(yr)} stroke="#fff" strokeWidth={1} />
              </>
            )}
            <text x={1263} y={yearToBar(yr)} fontSize={22} dominantBaseline="central" fill="#000">{yr}</text>
          </g>
        ))}
      </svg>
    </div>
  );
};

export default App;
